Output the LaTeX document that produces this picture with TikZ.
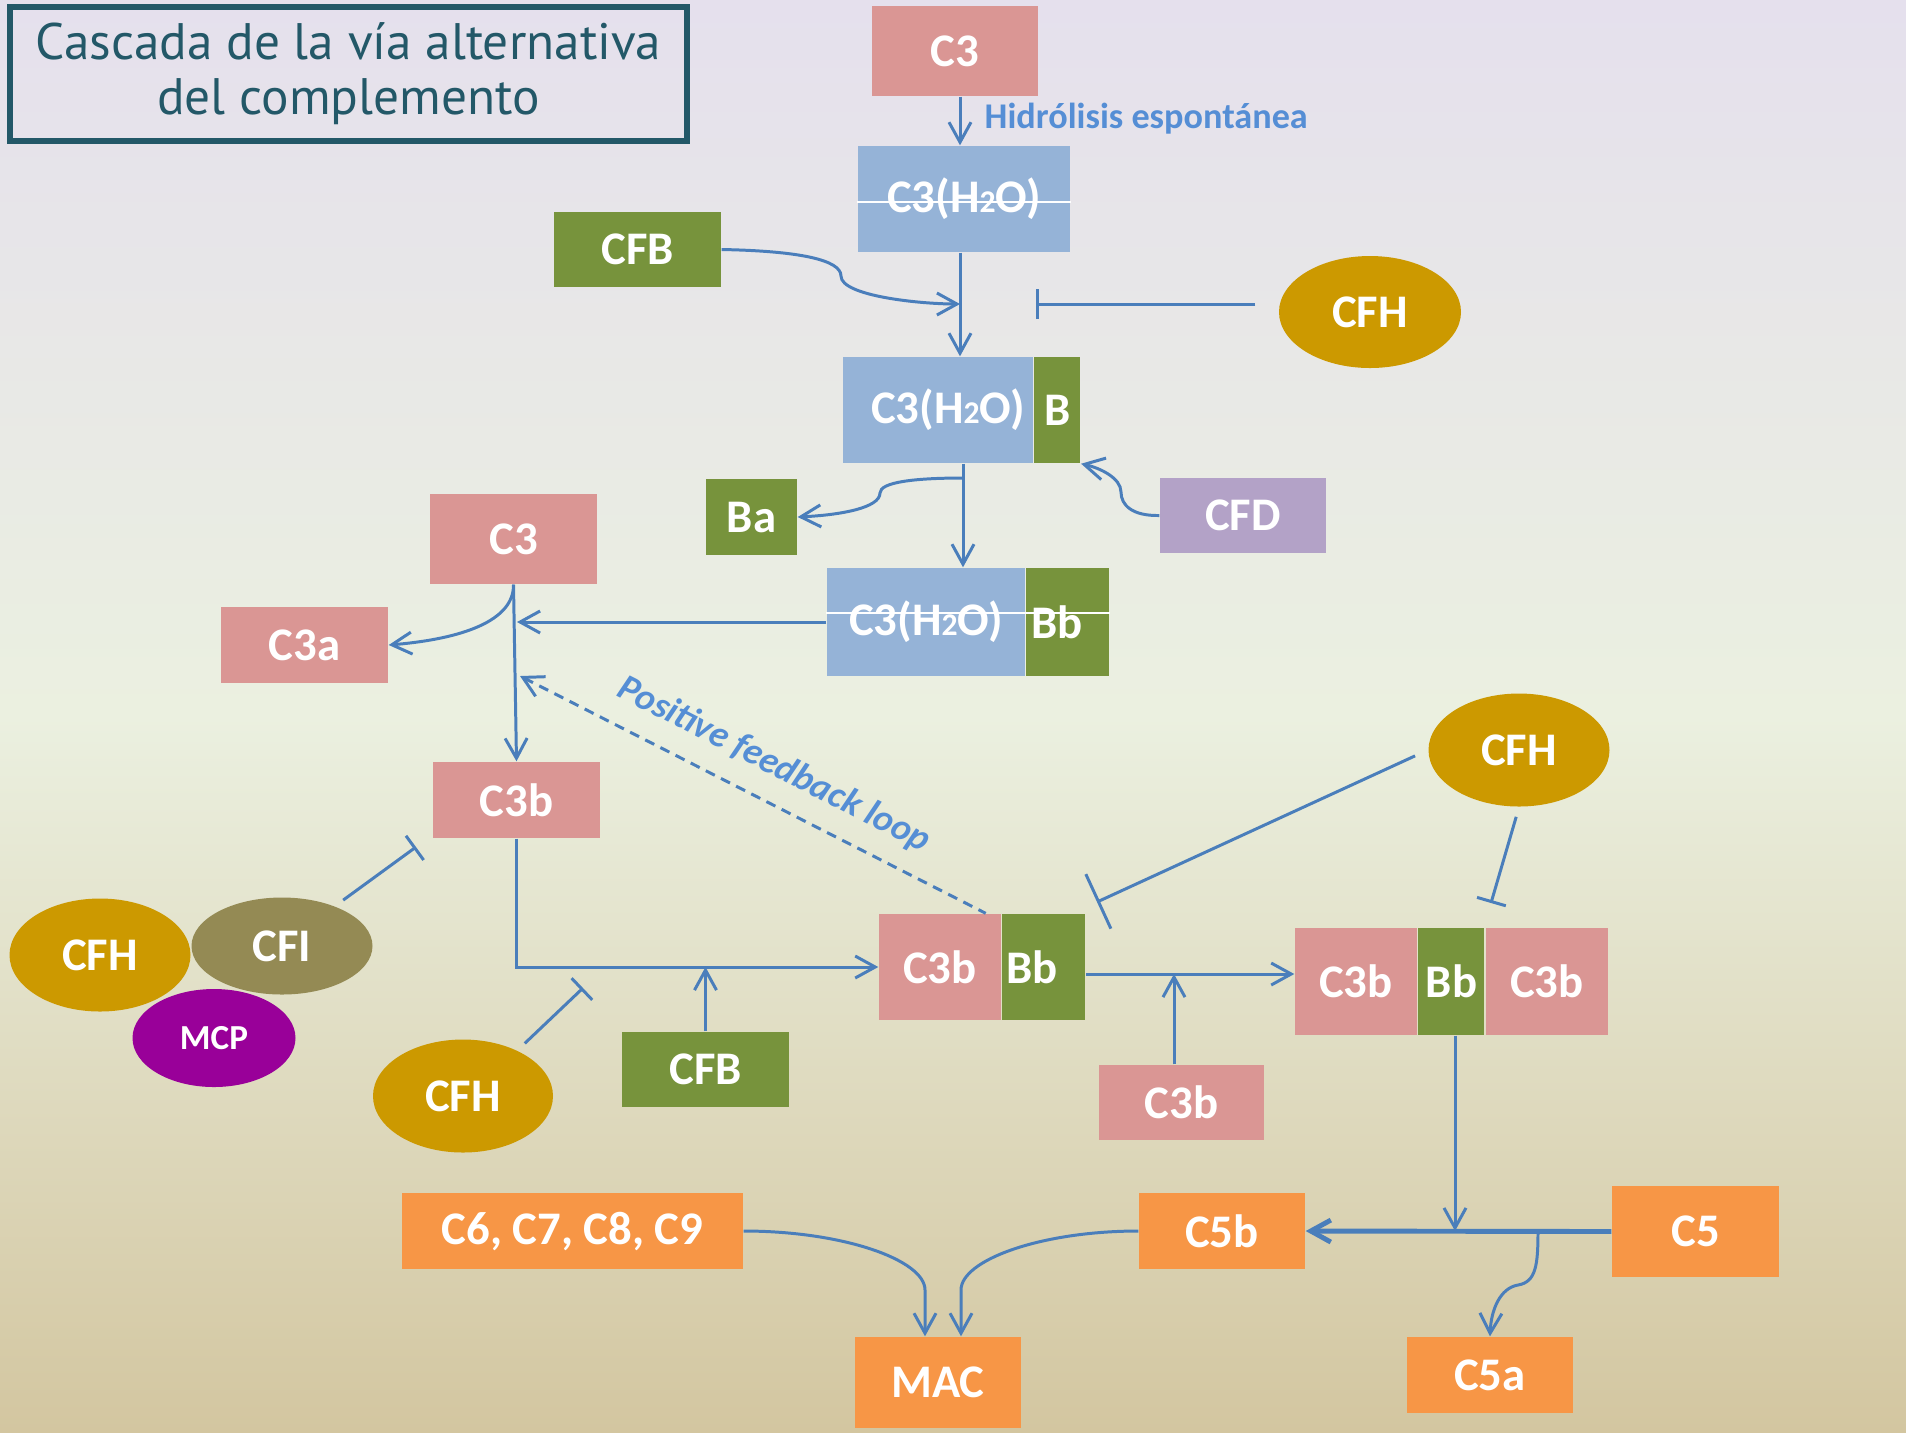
\documentclass[tikz,border=0pt]{standalone}
\usepackage{fontspec}
\setmainfont{Carlito}
\newfontfamily\titlefont{PT Sans}
\usetikzlibrary{arrows.meta,positioning,shapes.geometric,calc}

\definecolor{pinkC}{RGB}{218,150,148}
\definecolor{blueC}{RGB}{149,179,215}
\definecolor{greenC}{RGB}{119,147,60}
\definecolor{goldC}{RGB}{204,153,0}
\definecolor{oliveC}{RGB}{148,138,84}
\definecolor{mcpC}{RGB}{153,0,153}
\definecolor{cfdC}{RGB}{179,162,199}
\definecolor{orangeC}{RGB}{247,150,70}
\definecolor{lineC}{RGB}{74,126,187}
\definecolor{noteC}{RGB}{85,142,213}
\definecolor{titleC}{RGB}{35,88,104}
\definecolor{bgtop}{RGB}{229,224,237}
\definecolor{bgmid}{RGB}{235,240,224}
\definecolor{bgbot}{RGB}{211,198,160}

\newcommand{\subtwo}{{\fontsize{9}{9}\selectfont 2}}

\tikzset{
  wh/.style 2 args={minimum width=#1*0.1mm, minimum height=#2*0.1mm},
  lbl/.style={inner sep=0pt, text=white, font=\fontsize{13.3}{16}\selectfont\bfseries},
  pinkbox/.style={lbl, fill=pinkC},
  bluebox/.style={lbl, fill=blueC},
  greenbox/.style={lbl, fill=greenC},
  orangebox/.style={lbl, fill=orangeC},
  oval/.style={lbl, ellipse},
  >={Straight Barb[length=2mm,width=2.2mm]},
  link/.style={draw=lineC, line width=0.85pt},
  arr/.style={link, ->},
  inh/.style={link, -{Bar[width=3mm]}},
}

\begin{document}
\begin{tikzpicture}[x=0.1mm, y=-0.1mm]
	\shade[top color=bgtop, bottom color=bgbot, middle color=bgmid] (0,0) rectangle (1906,1432);
	\useasboundingbox (0,0) rectangle (1906,1432);

	\node[draw=titleC, line width=1.7pt, wh={677}{134}, align=center, text=titleC, inner sep=0pt, font=\titlefont\fontsize{14.6}{15.6}\selectfont] (title) at (348.5,74) {Cascada de la vía alternativa\\del complemento};

	\node[pinkbox, wh={166}{90}] (c3top) at (955,51) {C3};
	\node[anchor=base west, inner sep=0pt, text=noteC, font=\fontsize{10.3}{12}\selectfont\bfseries] (hidro) at (984,128) {Hidrólisis espontánea};
	\node[bluebox, wh={212}{106}] (c3h2o) at (964,199) {C3(H\subtwo O)};
	\node[greenbox, wh={167}{75}] (cfbtop) at (637.5,249.5) {CFB};
	\node[oval, fill=goldC, wh={182}{112}] (cfhtop) at (1370,312) {CFH};
	\node[bluebox, wh={190}{106}] (c3h2ob) at (938,410) {\hspace*{2mm}C3(H\subtwo O)};
	\node[greenbox, wh={46}{106}, right=0pt of c3h2ob] (b) {B};
	\node[lbl, fill=cfdC, wh={166}{75}] (cfd) at (1243,515.5) {CFD};
	\node[greenbox, wh={91}{76}] (ba) at (751.5,517) {Ba};
	\node[bluebox, wh={198}{108}] (c3h2obb) at (926,622) {C3(H\subtwo O)};
	\node[greenbox, wh={83}{108}, right=0pt of c3h2obb] (bb) {Bb\hspace*{2.2mm}};
	\draw[white, line width=0.4pt] ($(c3h2o.west)+(0,3)$) -- ($(c3h2o.east)+(0,3)$);
	\draw[white, line width=0.4pt] ($(c3h2obb.west)+(0,-9)$) -- ($(bb.east)+(0,-9)$);

	\node[pinkbox, wh={167}{90}] (c3left) at (513.5,539) {C3};
	\node[pinkbox, wh={167}{76}] (c3a) at (304.5,645) {C3a};
	\node[pinkbox, wh={167}{76}] (c3b) at (516.5,800) {C3b};
	\node[oval, fill=goldC, wh={181}{113}] (cfhleft) at (100,955) {CFH};
	\node[oval, fill=oliveC, wh={181}{97}] (cfi) at (282,946) {CFI};
	\node[oval, fill=mcpC, wh={163}{98}, font=\fontsize{10}{12}\selectfont\bfseries] (mcp) at (214,1038) {MCP};
	\node[oval, fill=goldC, wh={180}{113}] (cfhmid) at (463,1096) {CFH};
	\node[greenbox, wh={167}{75}] (cfbbot) at (705.5,1069.5) {CFB};
	\node[pinkbox, wh={122}{106}] (c3bbbl) at (940,967) {C3b};
	\node[greenbox, wh={83}{106}, right=0pt of c3bbbl] (bbl) {Bb\hspace*{2.4mm}};
	\node[oval, fill=goldC, wh={181}{113}] (cfhright) at (1519,750) {CFH};
	\node[pinkbox, wh={122}{107}] (c3bc) at (1356,981.5) {C3b};
	\node[greenbox, wh={66}{107}, right=0pt of c3bc] (bbc) {Bb};
	\node[pinkbox, wh={122}{107}, right=0pt of bbc] (c3bd) {C3b};
	\node[pinkbox, wh={165}{75}] (c3bbot) at (1181.5,1102.5) {C3b};

	\node[orangebox, wh={341}{76}] (c6) at (572.5,1231) {C6, C7, C8, C9};
	\node[orangebox, wh={166}{76}] (c5b) at (1222,1231) {C5b};
	\node[orangebox, wh={167}{91}] (c5) at (1695.5,1231.5) {C5};
	\node[orangebox, wh={166}{91}] (mac) at (938,1382.5) {MAC};
	\node[orangebox, wh={166}{76}] (c5a) at (1490,1375) {C5a};

	\coordinate (j1) at (960,304);
	\coordinate (j1h) at (1036,304);
	\coordinate (j2) at (963,478);
	\coordinate (j3) at (517,623);
	\coordinate (fb) at (520,676);
	\coordinate (i2) at (583,988);
	\coordinate (i3) at (416,847);
	\coordinate (i4) at (1097,902);
	\coordinate (i5) at (1491,903);
	\coordinate (j5) at (1174,974);
	\coordinate (j6) at (1455,1231);
	\coordinate (j7) at (1538,1231);
	\coordinate (m1) at ($(mac.north)+(-13,0)$);
	\coordinate (m2) at ($(mac.north)+(23,0)$);

	\draw[arr] (c3top.south -| j1) -- (c3h2o.north -| j1);
	\draw[arr] (c3h2o.south -| j1) -- (c3h2ob.north -| j1);
	\draw[arr] (cfbtop.east) .. controls (800,251) and (841,260) .. (841,276) .. controls (841,296) and (920,304) .. (j1);
	\draw[inh, shorten <=2.3mm] (cfhtop.west |- j1h) -- (j1h);
	\draw[arr] (c3h2ob.south -| j2) -- (c3h2obb.north -| j2);
	\draw[arr] (j2) .. controls (915,478) and (880,482) .. (880,493) .. controls (880,508) and (840,515) .. (ba.east);
	\draw[arr] (cfd.west) .. controls (1132,516) and (1121,505) .. (1121,492) .. controls (1121,478) and (1100,468) .. (b.south east);
	\draw[arr] (c3h2obb.west) -- (j3 |- c3h2obb.west);
	\draw[arr] (c3left.south) -- (c3b.north);
	\draw[arr] (c3left.south) .. controls (514,625) and (450,640) .. (c3a.east);
	\draw[link, <-, dash pattern=on 1mm off 0.7mm] (fb) -- ($(c3bbbl.north east)+(-16,0)$) node[pos=0.51, sloped, above=2pt, text=noteC, font=\fontsize{10.6}{12}\selectfont\bfseries\itshape] (fbl) {Positive feedback loop};
	\draw[arr] (c3b.south) |- (c3bbbl.west);
	\draw[arr] (cfbbot.north) -- (cfbbot.north |- c3bbbl.west);
	\draw[inh, shorten <=1mm] (cfhmid.40) -- (i2);
	\draw[inh, shorten <=1mm] (cfi.37) -- (i3);
	\draw[link, -{Bar[width=6mm]}, shorten <=1.4mm] (cfhright.west) -- (i4);
	\draw[inh, shorten <=1mm] (cfhright.south) -- (i5);
	\draw[arr] (bbl.east |- j5) -- (c3bc.west |- j5);
	\draw[arr] (j5 |- c3bbot.north) -- (j5);
	\draw[arr] (bbc.south -| j6) -- (j6);
	\draw[arr, line width=1.4pt] (c5.west) -- (c5b.east);
	\draw[arr] (j7) .. controls (1538,1265) and (1536,1282) .. (1518,1285) .. controls (1500,1288) and (1491,1310) .. (c5a.north);
	\draw[arr] (c6.east) .. controls (843,1231) and (925,1260) .. (925,1290) -- (m1);
	\draw[arr] (c5b.west) .. controls (1041,1231) and (961,1260) .. (961,1290) -- (m2);
\end{tikzpicture}
\end{document}
